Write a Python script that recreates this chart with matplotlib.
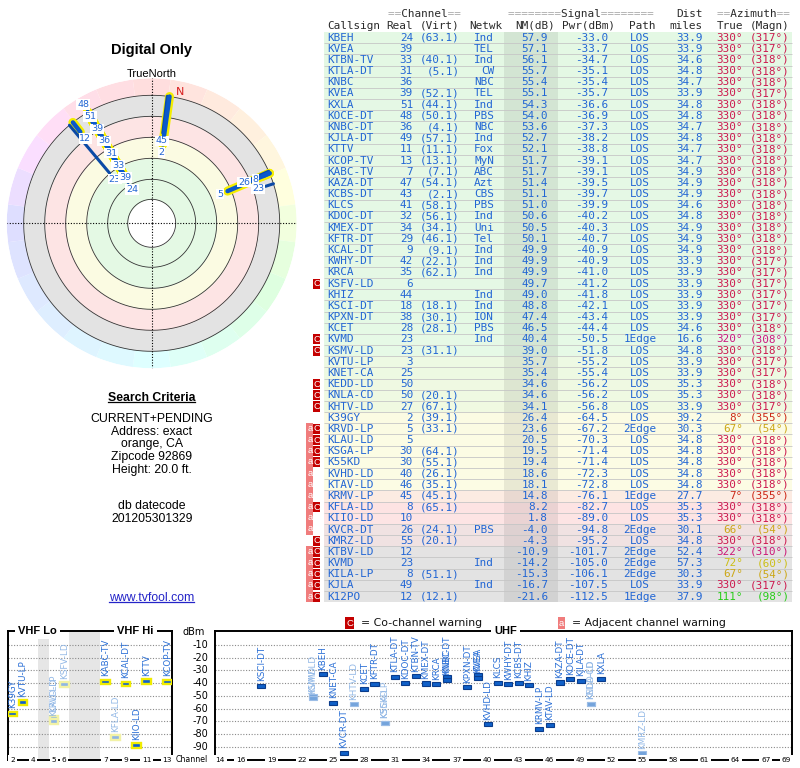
import numpy as np
import matplotlib
matplotlib.use("Agg")
import matplotlib.pyplot as plt
from matplotlib.colors import LinearSegmentedColormap, hsv_to_rgb, Normalize
from matplotlib.patches import Rectangle
from matplotlib.lines import Line2D

# ---------------- data ----------------
callsign = ["KBEH", "KVEA", "KTBN-TV", "KTLA-DT", "KNBC", "KVEA", "KXLA", "KOCE-DT", "KNBC-DT",
            "KJLA-DT", "KTTV", "KCOP-TV", "KABC-TV", "KAZA-DT", "KCBS-DT", "KLCS", "KDOC-DT",
            "KMEX-DT", "KFTR-DT", "KCAL-DT", "KWHY-DT", "KRCA", "KSFV-LD", "KHIZ", "KSCI-DT",
            "KPXN-DT", "KCET", "KVMD", "KSMV-LD", "KVTU-LP", "KNET-CA", "KEDD-LD", "KNLA-CD",
            "KHTV-LD", "K39GY", "KRVD-LP", "KLAU-LD", "KSGA-LP", "K55KD", "KVHD-LD", "KTAV-LD",
            "KRMV-LP", "KFLA-LD", "KIIO-LD", "KVCR-DT", "KMRZ-LD", "KTBV-LD", "KVMD", "KILA-LP",
            "KJLA", "K12PO"]
real_ch = [24, 39, 33, 31, 36, 39, 51, 48, 36, 49, 11, 13, 7, 47, 43, 41, 32, 34, 29, 9, 42, 35,
           6, 44, 18, 38, 28, 23, 23, 3, 25, 50, 50, 27, 2, 5, 5, 30, 30, 40, 46, 45, 8, 10, 26,
           55, 12, 23, 8, 49, 12]
virt_ch = ["63.1", "", "40.1", "5.1", "", "52.1", "44.1", "50.1", "4.1", "57.1", "11.1", "13.1",
           "7.1", "54.1", "2.1", "58.1", "56.1", "34.1", "46.1", "9.1", "22.1", "62.1", "", "",
           "18.1", "30.1", "28.1", "", "31.1", "", "", "", "20.1", "67.1", "39.1", "33.1", "",
           "64.1", "55.1", "26.1", "35.1", "45.1", "65.1", "", "24.1", "20.1", "", "", "51.1",
           "", "12.1"]
network = ["Ind", "TEL", "Ind", "CW", "NBC", "TEL", "Ind", "PBS", "NBC", "Ind", "Fox", "MyN",
           "ABC", "Azt", "CBS", "PBS", "Ind", "Uni", "Tel", "Ind", "Ind", "Ind", "", "Ind", "Ind",
           "ION", "PBS", "Ind", "", "", "", "", "", "", "", "", "", "", "", "", "", "", "", "",
           "PBS", "", "", "Ind", "", "Ind", ""]
nm_db = [57.9, 57.1, 56.1, 55.7, 55.4, 55.1, 54.3, 54.0, 53.6, 52.7, 52.1, 51.7, 51.7, 51.4, 51.1,
         51.0, 50.6, 50.5, 50.1, 49.9, 49.9, 49.9, 49.7, 49.0, 48.8, 47.4, 46.5, 40.4, 39.0, 35.7,
         35.4, 34.6, 34.6, 34.1, 26.4, 23.6, 20.5, 19.5, 19.4, 18.6, 18.1, 14.8, 8.2, 1.8, -4.0,
         -4.3, -10.9, -14.2, -15.3, -16.7, -21.6]
pwr_dbm = [-33.0, -33.7, -34.7, -35.1, -35.4, -35.7, -36.6, -36.9, -37.3, -38.2, -38.8, -39.1,
           -39.1, -39.5, -39.7, -39.9, -40.2, -40.3, -40.7, -40.9, -40.9, -41.0, -41.2, -41.8,
           -42.1, -43.4, -44.4, -50.5, -51.8, -55.2, -55.4, -56.2, -56.2, -56.8, -64.5, -67.2,
           -70.3, -71.4, -71.4, -72.3, -72.8, -76.1, -82.7, -89.0, -94.8, -95.2, -101.7, -105.0,
           -106.1, -107.5, -112.5]
path = (["LOS"] * 27 + ["1Edge"] + ["LOS"] * 7 + ["2Edge"] + ["LOS"] * 5 + ["1Edge"]
        + ["LOS", "LOS", "2Edge", "LOS", "2Edge", "2Edge", "2Edge", "LOS", "1Edge"])
dist_mi = [33.9, 33.9, 34.6, 34.8, 34.7, 33.9, 34.8, 34.8, 34.7, 34.8, 34.7, 34.7, 34.9, 34.9,
           34.9, 34.6, 34.8, 34.9, 34.9, 34.9, 33.9, 33.9, 33.9, 33.9, 33.9, 33.9, 34.6, 16.6,
           34.8, 33.9, 33.9, 35.3, 35.3, 33.9, 39.2, 30.3, 34.8, 34.8, 34.8, 34.8, 34.8, 27.7,
           35.3, 35.3, 30.1, 34.8, 52.4, 57.3, 30.3, 33.9, 37.9]
az_true = ([330] * 27 + [320] + [330] * 6 + [8, 67] + [330] * 5 + [7, 330, 330, 66, 330, 322,
           72, 67, 330, 111])
az_magn = [317, 317, 318, 318, 318, 317, 318, 318, 318, 318, 318, 318, 318, 318, 318, 318, 318,
           318, 318, 318, 317, 317, 317, 317, 317, 317, 318, 308, 318, 317, 317, 318, 318, 317,
           355, 54, 318, 318, 318, 318, 318, 355, 318, 318, 54, 318, 310, 60, 54, 317, 98]
warning = ([""] * 22 + ["C"] + [""] * 4 + ["C", "C", "", "", "C", "C", "C", ""]
           + ["aC"] * 4 + ["a"] * 3 + ["aC", "a", "a", "C"] + ["aC"] * 5)

dbm_levels = [-10, -20, -30, -40, -50, -60, -70, -80, -90]
vhf_tick_ch = [2, 4, 5, 6, 7, 9, 11, 13]
uhf_tick_ch = [14, 16, 19, 22, 25, 28, 31, 34, 37, 40, 43, 46, 49, 52, 55, 58, 61, 64, 67, 69]
criteria_lines = ["CURRENT+PENDING", "Address: exact", "orange, CA", "Zipcode 92869",
                  "Height: 20.0 ft."]
datecode_lines = ["db datecode", "201205301329"]

# ---------------- helpers ----------------
W, H = 800, 768
fig = plt.figure(figsize=(W / 100, H / 100), dpi=100)
fig.patch.set_facecolor("white")


def fx(px):
    return px / W


def fy(py):
    return 1.0 - py / H


MONO = "DejaVu Sans Mono"
SANS = "Liberation Sans"
BLUE = "#2266d4"
n = len(callsign)


def hue_for(az):
    return np.interp(np.asarray(az) % 360, [0, 67, 111, 180, 270, 330, 360],
                     [0, 48, 115, 180, 240, 342, 360]) / 360.0


def az_color(az, s=0.88, v=0.8):
    return hsv_to_rgb((float(hue_for(az)), s, v))


# ---------------- table ----------------
ROW0, ROWH = 32.0, 11.18
axT = fig.add_axes([0, 0, 1, 1])
axT.set_xlim(0, W)
axT.set_ylim((H - ROW0) / ROWH, -ROW0 / ROWH)
axT.axis("off")

anch = [(-12, "#e3e3e3"), (-5, "#eee2e2"), (1, "#fde4e4"), (9, "#fde3e3"), (15, "#fcebe2"),
        (18, "#fcfce4"), (27, "#fbfbe3"), (34, "#f0f9e1"), (39, "#e6f9e6"), (60, "#e4f8e4")]
lo, hi = anch[0][0], anch[-1][0]
row_cmap = LinearSegmentedColormap.from_list("rows", [((v - lo) / (hi - lo), c) for v, c in anch])
row_norm = Normalize(lo, hi, clip=True)

rows = np.arange(n)
axT.barh(rows + 0.5, 792 - 324, left=324, height=1.0, color=row_cmap(row_norm(nm_db)),
         linewidth=0)
axT.barh(rows + 0.5, 54, left=504, height=1.0, color="black", alpha=0.075, linewidth=0)
axT.hlines(rows[1:], 324, 792, color="#c6c6c6", lw=0.6)

fs = 7.9
for i in range(n):
    y = i + 0.5
    kw = dict(fontsize=fs, family=MONO, va="center", color=BLUE)
    axT.text(327, y, callsign[i], ha="left", **kw)
    axT.text(413, y, str(real_ch[i]), ha="right", **kw)
    if virt_ch[i]:
        axT.text(460, y, f"({virt_ch[i]})", ha="right", **kw)
    if network[i]:
        axT.text(494, y, network[i], ha="right", **kw)
    axT.text(548, y, f"{nm_db[i]:.1f}", ha="right", **kw)
    axT.text(608, y, f"{pwr_dbm[i]:.1f}", ha="right", **kw)
    axT.text(640, y, path[i], ha="center", **kw)
    axT.text(703, y, f"{dist_mi[i]:.1f}", ha="right", **kw)
    c = az_color(az_true[i])
    axT.text(743, y, f"{az_true[i]}°", ha="right", fontsize=fs, family=MONO, va="center", color=c)
    axT.text(790, y, f"({az_magn[i]}°)", ha="right", fontsize=fs, family=MONO, va="center",
             color=c)

for i, w in enumerate(warning):
    if "a" in w:
        axT.add_patch(Rectangle((306.4, i), 6.9, 1.0, fc="#f07c7c", ec="none"))
        axT.text(309.85, i + 0.45, "a", color="white", fontsize=6.8, ha="center", va="center",
                 family=SANS)
    if "C" in w:
        axT.add_patch(Rectangle((313.3, i + 0.05), 6.3, 0.9, fc="#c40000", ec="none"))
        axT.text(316.45, i + 0.5, "C", color="white", fontsize=6.8, ha="center", va="center",
                 family=SANS)

# header
HDR_DARK, HDR_GRAY = "#2a2a2a", "#a8a8a8"
y1 = (14.3 - ROW0) / ROWH
y2 = (25.7 - ROW0) / ROWH


def eq_header(x, s):
    gray = "".join(ch if ch == "=" else " " for ch in s)
    dark = "".join(" " if ch == "=" else ch for ch in s)
    axT.text(x, y1, gray, ha="left", va="center", fontsize=fs, family=MONO, color=HDR_GRAY)
    axT.text(x, y1, dark, ha="left", va="center", fontsize=fs, family=MONO, color=HDR_DARK)


eq_header(388, "==Channel==")
eq_header(508, "========Signal========")
eq_header(717, "==Azimuth==")
axT.text(703, y1, "Dist", ha="right", va="center", fontsize=fs, family=MONO, color=HDR_DARK)
for x, s, ha in [(327, "Callsign", "left"), (413, "Real", "right"), (460, "(Virt)", "right"),
                 (502, "Netwk", "right"), (555, "NM(dB)", "right"), (615, "Pwr(dBm)", "right"),
                 (655, "Path", "right"), (703, "miles", "right"), (743, "True", "right"),
                 (790, "(Magn)", "right")]:
    axT.text(x, y2, s, ha=ha, va="center", fontsize=fs, family=MONO, color=HDR_DARK)

# ---------------- polar radar ----------------
cx, cy = 151.7, 223.3
R_WHEEL, R_OUT = 145.0, 128.0
axP = fig.add_axes([fx(cx - R_WHEEL), fy(cy + R_WHEEL), 2 * R_WHEEL / W, 2 * R_WHEEL / H],
                   projection="polar")
axP.set_theta_zero_location("N")
axP.set_theta_direction(-1)
axP.set_rlim(0, R_WHEEL)
axP.axis("off")

theta = np.linspace(0, 2 * np.pi, 361)
zones = [(24, 65, "#e4f9e4"), (65, 86, "#fbfbe2"), (86, 107, "#fde4e4"), (107, 128, "#e3e3e3")]
for r0, r1, c in zones:
    axP.fill_between(theta, r0, r1, color=c, lw=0, zorder=1)

nseg = 24
centers = np.arange(nseg) * 360.0 / nseg
wheel_cols = [hsv_to_rgb((float(hue_for(a)), 0.13, 1.0)) for a in centers]
axP.bar(np.deg2rad(centers), R_WHEEL - R_OUT, width=2 * np.pi / nseg, bottom=R_OUT,
        color=wheel_cols, linewidth=0, zorder=1)

for r in [24, 44, 65, 86, 107, 128]:
    axP.plot(theta, np.full_like(theta, r), color="#333333", lw=0.6, zorder=2)
for th in [0, np.pi / 2, np.pi, 3 * np.pi / 2]:
    axP.plot([th, th], [0, R_WHEEL], color="black", lw=0.8, ls=(0, (1, 1.5)), zorder=2)

NM_ANCH = [-25, -11, 24, 40, 58, 80]
R_ANCH = [132, 116, 82, 66, 47, 30]


def nm_to_r(v):
    return np.interp(v, NM_ANCH, R_ANCH)


nm_arr = np.array(nm_db)
ch_arr = np.array(real_ch)
az_arr = np.array(az_true)
tips = nm_to_r(nm_arr)
drawn = tips < R_OUT
vhf = ch_arr <= 13
th_arr = np.deg2rad(az_arr)

for i in np.where(drawn & vhf)[0]:
    axP.plot([th_arr[i]] * 2, [tips[i], R_OUT], color="#f4ee00", lw=6.5,
             solid_capstyle="round", zorder=4)
for i in np.where(drawn & ~vhf)[0]:
    axP.plot([th_arr[i]] * 2, [tips[i], R_OUT], color="#0b4aa6", lw=2.2,
             solid_capstyle="round", zorder=5)
for i in np.where(drawn & vhf)[0]:
    axP.plot([th_arr[i]] * 2, [tips[i], R_OUT], color="#0a58cc", lw=3.2,
             solid_capstyle="round", zorder=6)

# channel labels stacked outward along each azimuth
for az in sorted(set(az_arr[drawn])):
    idx = [i for i in np.where(drawn & (az_arr == az))[0]]
    idx.sort(key=lambda i: -nm_arr[i])
    prev = -1e9
    for i in idx:
        lr = max(tips[i] - 8, prev + 14)
        if lr > 140:
            break
        prev = lr
        axP.text(np.deg2rad(az), lr, str(real_ch[i]), ha="center", va="center", fontsize=6.8,
                 color=BLUE, zorder=7,
                 bbox=dict(boxstyle="square,pad=0.08", fc="white", ec="none"))

decl = float(np.mean((np.array(az_true) - np.array(az_magn)) % 360))
axP.text(np.deg2rad(decl), 134, "N", color="#d82020", fontsize=8, ha="center", va="center",
         family="DejaVu Sans", zorder=7)

fig.text(fx(cx), fy(50), "Digital Only", ha="center", va="center", fontsize=10.5,
         fontweight="bold", family=SANS)
fig.text(fx(cx), fy(74.3), "TrueNorth", ha="center", va="center", fontsize=8, family=SANS)

# ---------------- left info text ----------------
t_search = fig.text(fx(cx), fy(397.7), "Search Criteria", ha="center", va="center",
                    fontsize=8.8, fontweight="bold", family=SANS)
for k, s in enumerate(criteria_lines):
    fig.text(fx(cx), fy(419.3 + k * 12.6), s, ha="center", va="center", fontsize=8.8,
             family=SANS)
for k, s in enumerate(datecode_lines):
    fig.text(fx(cx), fy(506 + k * 12.7), s, ha="center", va="center", fontsize=8.8, family=SANS)
t_url = fig.text(fx(cx), fy(597.7), "www.tvfool.com", ha="center", va="center", fontsize=8.8,
                 family=SANS, color="#2424c8")

# ---------------- legend ----------------
fig.text(fx(349.5), fy(623), "C", ha="center", va="center", fontsize=6.8, color="white",
         family=SANS, bbox=dict(boxstyle="square,pad=0.12", fc="#c40000", ec="none"))
fig.text(fx(361), fy(623), "= Co-channel warning", ha="left", va="center", fontsize=7.8,
         family="DejaVu Sans", color="#111111")
fig.text(fx(561.5), fy(623), "a", ha="center", va="center", fontsize=6.8, color="white",
         family=SANS, bbox=dict(boxstyle="square,pad=0.12", fc="#f07c7c", ec="none"))
fig.text(fx(572), fy(623), "= Adjacent channel warning", ha="left", va="center", fontsize=7.8,
         family="DejaVu Sans", color="#111111")

# ---------------- spectrum charts ----------------
Y_TOP, Y_BOT = 631.0, 760.0


def vhf_slot(ch):
    if ch <= 4:
        return ch - 2
    if ch <= 6:
        return ch - 1
    return ch + 2


def spectrum_axes(x0px, x1px, xlim):
    ax = fig.add_axes([fx(x0px), fy(Y_BOT), (x1px - x0px) / W, (Y_BOT - Y_TOP) / H])
    ax.set_xlim(*xlim)
    ax.set_ylim(-100.5, 1.0)
    ax.set_xticks([])
    ax.set_yticks([])
    for s in ax.spines.values():
        s.set_linewidth(1.4)
        s.set_color("black")
    for lv in dbm_levels:
        ax.axhline(lv, color="#8a8a8a", lw=0.8, ls=(0, (1, 1.5)), zorder=1)
    return ax


axV = spectrum_axes(7.55, 172.4, (-0.5, 15.5))
axU = spectrum_axes(214.85, 791.7, (13.5, 69.5))
axV.axvspan(2.5, 3.5, color="#e6e6e6", lw=0, zorder=0.5)
axV.axvspan(5.5, 8.5, color="#e6e6e6", lw=0, zorder=0.5)

for i in range(n):
    p = pwr_dbm[i]
    if p <= -100:
        continue
    ch = real_ch[i]
    pale = "C" in warning[i]
    lab_col = "#92b8e6" if pale else "#2a6fd6"
    if ch <= 13:
        ax, x = axV, vhf_slot(ch)
        ax.bar(x, 3.4, width=0.85, bottom=p - 1.7, color="#8fb6e4" if pale else "#0f5fd0",
               edgecolor="#f2f2a6" if pale else "#f0ec00", lw=1.7, zorder=4)
        off = 4.6
    else:
        ax, x = axU, ch
        ax.bar(x, 3.2, width=0.78, bottom=p - 1.6, color="#74a4dc" if pale else "#1060c8",
               edgecolor="#9cbde6" if pale else "#0a3c8c", lw=0.8, zorder=4)
        off = 3.6
    ax.text(x, p + off, callsign[i], rotation=90, ha="center", va="bottom", fontsize=6.3,
            color=lab_col, zorder=5, clip_on=False, family="DejaVu Sans")

box = dict(boxstyle="square,pad=0.25", fc="white", ec="none")
for ch in vhf_tick_ch:
    axV.text(vhf_slot(ch), 0, str(ch), transform=axV.get_xaxis_transform(), ha="center",
             va="center", fontsize=5.3, bbox=box, zorder=6, family="DejaVu Sans")
for ch in uhf_tick_ch:
    axU.text(ch, 0, str(ch), transform=axU.get_xaxis_transform(), ha="center", va="center",
             fontsize=5.3, bbox=box, zorder=6, family="DejaVu Sans")

top_box = dict(boxstyle="square,pad=0.3", fc="white", ec="none")
axV.text(2.4, 1.0, "VHF Lo", transform=axV.get_xaxis_transform(), ha="center", va="center",
         fontsize=8, fontweight="bold", family=SANS, bbox=top_box, zorder=6)
axV.text(11.9, 1.0, "VHF Hi", transform=axV.get_xaxis_transform(), ha="center", va="center",
         fontsize=8, fontweight="bold", family=SANS, bbox=top_box, zorder=6)
axU.text(41.7, 1.0, "UHF", transform=axU.get_xaxis_transform(), ha="center", va="center",
         fontsize=8, fontweight="bold", family=SANS, bbox=top_box, zorder=6)

lab_x = 1 + (208 - 172.4) / (172.4 - 7.55)
for lv in dbm_levels:
    axV.text(lab_x, lv, str(lv), transform=axV.get_yaxis_transform(), ha="right", va="center",
             fontsize=7, family="DejaVu Sans", clip_on=False)
axV.text(1 + (205 - 172.4) / (172.4 - 7.55), 0, "dBm", transform=axV.get_yaxis_transform(),
         ha="right", va="center", fontsize=7, family="DejaVu Sans", clip_on=False)
axV.text(lab_x, 0, "Channel", transform=axV.transAxes, ha="right", va="center", fontsize=5.6,
         family="DejaVu Sans", clip_on=False)

# ---------------- underlines ----------------
fig.canvas.draw()
rend = fig.canvas.get_renderer()
inv = fig.transFigure.inverted()
for t, col in [(t_search, "black"), (t_url, "#2424c8")]:
    bb = t.get_window_extent(rend)
    (x0, y0), (x1, _) = inv.transform([[bb.x0, bb.y0 + 1.5], [bb.x1, bb.y1]])
    fig.add_artist(Line2D([x0, x1], [y0, y0], transform=fig.transFigure, color=col, lw=0.9))

fig.savefig("out.png", dpi=100)
